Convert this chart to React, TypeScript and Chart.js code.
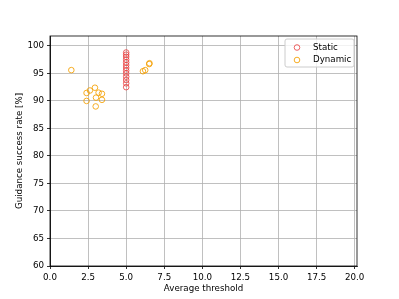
import React, { useEffect, useRef } from "react";
import { Chart, registerables } from "chart.js";

Chart.register(...registerables);

const staticX = [5, 5, 5, 5, 5, 5, 5, 5, 5, 5, 5, 5, 5];
const staticY = [92.5, 93.2, 93.8, 94.4, 95.0, 95.5, 96.0, 96.5, 97.0, 97.5, 98.0, 98.4, 98.8];

const dynamicX = [1.4, 2.4, 2.4, 2.62, 2.95, 3.0, 3.02, 3.19, 3.41, 3.41, 6.1, 6.25, 6.51, 6.53];
const dynamicY = [95.6, 91.45, 90.0, 91.9, 92.4, 89.0, 90.6, 91.5, 91.3, 90.2, 95.4, 95.6, 96.7, 96.85];

const seriesNames = ["Static", "Dynamic"];
const seriesColors = ["rgba(232,60,60,0.8)", "rgba(245,160,0,0.85)"];

const xTicks = [0, 2.5, 5, 7.5, 10, 12.5, 15, 17.5, 20];
const yTicks = [60, 65, 70, 75, 80, 85, 90, 95, 100];

const FONT = "'DejaVu Sans', sans-serif";
const FS = 8.7;

const framePlugin = {
  id: "frame",
  afterDraw(chart: any) {
    const { ctx, chartArea: a } = chart;
    ctx.save();
    ctx.strokeStyle = "#000";
    ctx.lineWidth = 0.8;
    ctx.strokeRect(a.left, a.top, a.right - a.left, a.bottom - a.top);
    // legend
    const bx = 285, by = 39, bw = 69, bh = 28;
    ctx.fillStyle = "rgba(255,255,255,0.8)";
    ctx.strokeStyle = "#cccccc";
    ctx.lineWidth = 1;
    ctx.beginPath();
    const r = 2;
    ctx.moveTo(bx + r, by);
    ctx.lineTo(bx + bw - r, by);
    ctx.arcTo(bx + bw, by, bx + bw, by + r, r);
    ctx.lineTo(bx + bw, by + bh - r);
    ctx.arcTo(bx + bw, by + bh, bx + bw - r, by + bh, r);
    ctx.lineTo(bx + r, by + bh);
    ctx.arcTo(bx, by + bh, bx, by + bh - r, r);
    ctx.lineTo(bx, by + r);
    ctx.arcTo(bx, by, bx + r, by, r);
    ctx.closePath();
    ctx.fill();
    ctx.stroke();
    const rows = [47.5, 60];
    ctx.font = `${FS}px ${FONT}`;
    ctx.textBaseline = "middle";
    ctx.textAlign = "left";
    seriesNames.forEach((name, i) => {
      ctx.strokeStyle = seriesColors[i];
      ctx.lineWidth = 1;
      ctx.beginPath();
      ctx.arc(297, rows[i], 2.8, 0, Math.PI * 2);
      ctx.stroke();
      ctx.fillStyle = "#000";
      ctx.fillText(name, 313, rows[i]);
    });
    ctx.restore();
  },
};

export default function App() {
  const ref = useRef<HTMLCanvasElement | null>(null);
  useEffect(() => {
    document.body.style.margin = "0";
    const toPts = (xs: number[], ys: number[]) => xs.map((x, i) => ({ x, y: ys[i] }));
    const chart = new Chart(ref.current!, {
      type: "scatter",
      data: {
        datasets: [
          {
            label: seriesNames[0],
            data: toPts(staticX, staticY),
            borderColor: seriesColors[0],
            backgroundColor: "rgba(0,0,0,0)",
            pointRadius: 2.8,
            borderWidth: 1,
          },
          {
            label: seriesNames[1],
            data: toPts(dynamicX, dynamicY),
            borderColor: seriesColors[1],
            backgroundColor: "rgba(0,0,0,0)",
            pointRadius: 2.8,
            borderWidth: 1,
          },
        ],
      },
      options: {
        animation: false,
        responsive: false,
        layout: { padding: { top: 36, right: 42, left: 0, bottom: 0 } },
        plugins: { legend: { display: false }, tooltip: { enabled: false } },
        scales: {
          x: {
            type: "linear",
            min: 0,
            max: 20.15,
            afterFit: (s: any) => { s.height = 33; },
            afterBuildTicks: (s: any) => { s.ticks = xTicks.map((v) => ({ value: v })); },
            ticks: {
              color: "#000",
              padding: 3.5,
              maxRotation: 0,
              autoSkip: false,
              font: { family: FONT, size: FS },
              callback: (v: any) => Number(v).toFixed(1),
            },
            grid: { color: "#b0b0b0", lineWidth: 0.8, tickLength: 3, tickColor: "#000" },
            border: { display: true, color: "#000", width: 0.8 },
            title: {
              display: true,
              text: "Average threshold",
              color: "#000",
              font: { family: FONT, size: FS },
              padding: { top: 0, bottom: 5.5 },
            },
          },
          y: {
            type: "linear",
            min: 60,
            max: 101.8,
            afterFit: (s: any) => { s.width = 50; },
            afterBuildTicks: (s: any) => { s.ticks = yTicks.map((v) => ({ value: v })); },
            ticks: {
              color: "#000",
              padding: 3,
              autoSkip: false,
              font: { family: FONT, size: FS },
              callback: (v: any) => String(v),
            },
            grid: { color: "#b0b0b0", lineWidth: 0.8, tickLength: 3, tickColor: "#000" },
            border: { display: true, color: "#000", width: 0.8 },
            title: {
              display: true,
              text: "Guidance success rate [%]",
              color: "#000",
              font: { family: FONT, size: FS },
              padding: { top: 14.5, bottom: 0 },
            },
          },
        },
      },
      plugins: [framePlugin],
    });
    return () => chart.destroy();
  }, []);
  return (
    <div style={{ width: 399, height: 299, background: "#fff" }}>
      <canvas ref={ref} width={399} height={299} style={{ display: "block" }} />
    </div>
  );
}
